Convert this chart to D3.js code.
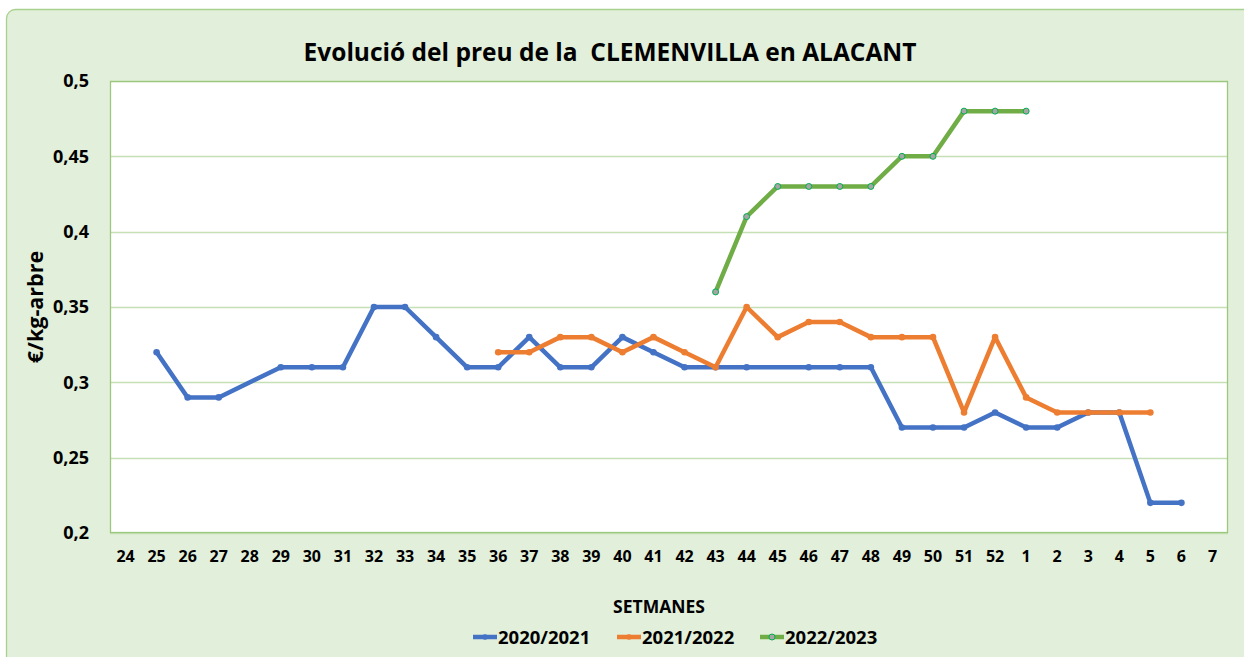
<!DOCTYPE html>
<html>
<head>
<meta charset="utf-8">
<script src="https://cdn.jsdelivr.net/npm/d3@7"></script>
<style>
  body { margin: 0; background: #ffffff; }
  text { font-family: "Open Sans", Lato, sans-serif; font-weight: bold; fill: #000; }
</style>
</head>
<body>
<div id="chart"></div>
<script>
// week labels on the x axis (season runs from week 24 to week 7 of next year)
var weeks = ["24","25","26","27","28","29","30","31","32","33","34","35","36","37","38","39","40","41","42",
             "43","44","45","46","47","48","49","50","51","52","1","2","3","4","5","6","7"];

var season2021 = [null,0.32,0.29,0.29,null,0.31,0.31,0.31,0.35,0.35,0.33,0.31,0.31,0.33,0.31,0.31,0.33,0.32,0.31,
                  0.31,0.31,null,0.31,0.31,0.31,0.27,0.27,0.27,0.28,0.27,0.27,0.28,0.28,0.22,0.22,null];
var season2122 = [null,null,null,null,null,null,null,null,null,null,null,null,0.32,0.32,0.33,0.33,0.32,0.33,0.32,
                  0.31,0.35,0.33,0.34,0.34,0.33,0.33,0.33,0.28,0.33,0.29,0.28,0.28,0.28,0.28,null,null];
var season2223 = [null,null,null,null,null,null,null,null,null,null,null,null,null,null,null,null,null,null,null,
                  0.36,0.41,0.43,0.43,0.43,0.43,0.45,0.45,0.48,0.48,0.48,null,null,null,null,null,null];

var seriesNames = ["2020/2021", "2021/2022", "2022/2023"];
var yTicks = [0.2, 0.25, 0.3, 0.35, 0.4, 0.45, 0.5];

var W = 1244, H = 657;
var plot = { left: 110, right: 1228, top: 81, bottom: 533 };

var svg = d3.select("#chart").append("svg")
    .attr("width", W)
    .attr("height", H);

// chart background with rounded green border
svg.append("rect")
    .attr("x", 6.5).attr("y", 9.5)
    .attr("width", 1260).attr("height", 670)
    .attr("rx", 9).attr("ry", 9)
    .style("fill", "#e2efda")
    .style("stroke", "#a9d18e")
    .style("stroke-width", 1.3);

// plot area
svg.append("rect")
    .attr("x", plot.left).attr("y", plot.top)
    .attr("width", plot.right - plot.left).attr("height", plot.bottom - plot.top)
    .style("fill", "#ffffff");

var x = d3.scaleBand()
    .domain(weeks)
    .range([plot.left, plot.right]);

var y = d3.scaleLinear()
    .domain([0.2, 0.5])
    .range([plot.bottom, plot.top]);

// gridlines
svg.append("g")
    .selectAll("line")
    .data(yTicks)
    .enter()
    .append("line")
    .attr("x1", plot.left).attr("x2", plot.right)
    .attr("y1", function (d) { return Math.round(y(d)) + 0.5; })
    .attr("y2", function (d) { return Math.round(y(d)) + 0.5; })
    .style("stroke", "#c5e0b4")
    .style("stroke-width", 1.3);

// plot border
svg.append("rect")
    .attr("x", plot.left + 0.5).attr("y", plot.top + 0.5)
    .attr("width", plot.right - plot.left - 1).attr("height", plot.bottom - plot.top - 1)
    .style("fill", "none")
    .style("stroke", "#9cc77e")
    .style("stroke-width", 1.3);

// y axis
var yAxis = svg.append("g")
    .attr("transform", "translate(" + plot.left + ",0)")
    .call(d3.axisLeft(y)
        .tickValues(yTicks)
        .tickSize(0)
        .tickPadding(21)
        .tickFormat(function (d) { return d3.format("")(+d.toFixed(2)).replace(".", ","); }));
yAxis.select(".domain").remove();
yAxis.selectAll("text")
    .style("font-size", "18px");

// x axis
var xAxis = svg.append("g")
    .attr("transform", "translate(0," + plot.bottom + ")")
    .call(d3.axisBottom(x).tickSize(0).tickPadding(18));
xAxis.select(".domain").remove();
xAxis.selectAll("text")
    .style("font-size", "16px");

// titles
svg.append("text")
    .attr("x", 610).attr("y", 61)
    .attr("text-anchor", "middle")
    .style("font-size", "24.5px")
    .attr("xml:space", "preserve")
    .text("Evolució del preu de la  CLEMENVILLA en ALACANT");

svg.append("text")
    .attr("transform", "translate(43,307) rotate(-90)")
    .attr("text-anchor", "middle")
    .style("font-size", "21.5px")
    .text("€/kg-arbre");

svg.append("text")
    .attr("x", 659).attr("y", 613)
    .attr("text-anchor", "middle")
    .style("font-size", "17.5px")
    .text("SETMANES");

// series
var colors = ["#4472c4", "#ed7d31", "#70ad47"];
var allSeries = [season2021, season2122, season2223];

var line = d3.line()
    .x(function (d) { return x(d.week) + x.bandwidth() / 2; })
    .y(function (d) { return y(d.value); });

allSeries.forEach(function (values, s) {
    var pts = values.map(function (v, i) { return { week: weeks[i], value: v }; })
        .filter(function (d) { return d.value !== null; });

    svg.append("path")
        .datum(pts)
        .attr("d", line)
        .style("fill", "none")
        .style("stroke", colors[s])
        .style("stroke-width", 4.5)
        .style("stroke-linejoin", "round");

    svg.append("g")
        .selectAll("circle")
        .data(pts)
        .enter()
        .append("circle")
        .attr("cx", function (d) { return x(d.week) + x.bandwidth() / 2; })
        .attr("cy", function (d) { return y(d.value); })
        .attr("r", s === 2 ? 3 : 3.3)
        .style("fill", s === 2 ? "#a5a5a5" : colors[s])
        .style("stroke", s === 2 ? "#00b050" : "none")
        .style("stroke-width", 1);
});

// legend
var legendX = [473, 617, 760];
var legend = svg.append("g")
    .selectAll("g")
    .data(seriesNames)
    .enter()
    .append("g")
    .attr("transform", function (d, i) { return "translate(" + legendX[i] + ",637)"; });

legend.append("line")
    .attr("x1", 0).attr("x2", 24)
    .style("stroke", function (d, i) { return colors[i]; })
    .style("stroke-width", 4.5);

legend.append("circle")
    .attr("cx", 12).attr("r", function (d, i) { return i === 2 ? 3 : 2.8; })
    .style("fill", function (d, i) { return i === 2 ? "#a5a5a5" : colors[i]; })
    .style("stroke", function (d, i) { return i === 2 ? "#00b050" : "none"; });

legend.append("text")
    .attr("x", 25).attr("y", 6.5)
    .style("font-size", "18.5px")
    .text(function (d) { return d; });
</script>
</body>
</html>
